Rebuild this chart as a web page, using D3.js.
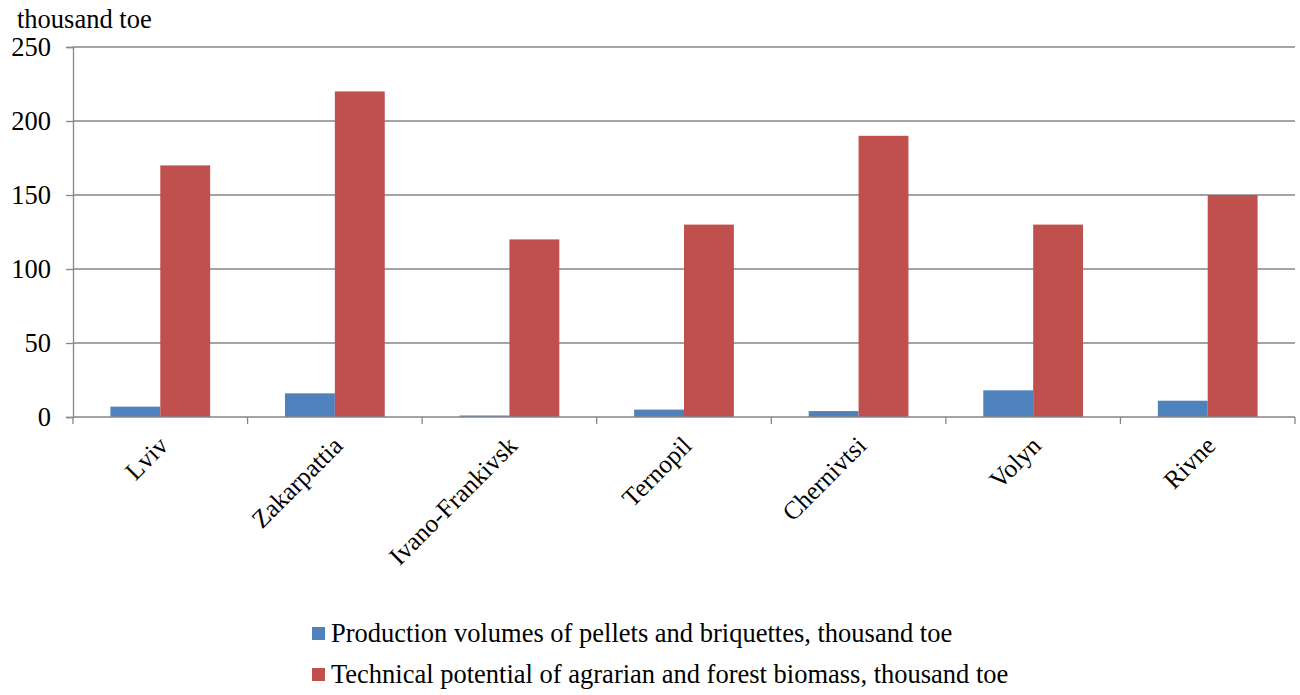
<!DOCTYPE html>
<html><head><meta charset="utf-8">
<script src="https://cdn.jsdelivr.net/npm/d3@7"></script>
<style>body{margin:0;background:#fff}svg{display:block}</style>
</head><body><svg id="c" width="1300" height="695"></svg>
<script>
const categories = ["Lviv","Zakarpattia","Ivano-Frankivsk","Ternopil","Chernivtsi","Volyn","Rivne"];
const production = [7,16,1,5,4,18,11];
const potential = [170,220,120,130,190,130,150];
const seriesNames = ["Production volumes of pellets and briquettes, thousand toe","Technical potential of agrarian and forest biomass, thousand toe"];
const colors = ["#4f81bd","#c0504d"];
const yTicks = [0,50,100,150,200,250];

const FONT = "'Liberation Serif', Tinos, 'DejaVu Serif', serif";
const svg = d3.select("#c").style("font-family",FONT);
const L=73,R=1295,T=47,B=417;
const x = d3.scaleBand().domain(categories).range([L,R]).padding(0);
const y = d3.scaleLinear().domain([0,250]).range([B,T]);
const bw = x.bandwidth()/3.5;
const grid="#868686";

svg.append("g").selectAll("line").data(yTicks.filter(d=>d>0)).join("line")
 .attr("x1",L).attr("x2",R).attr("y1",d=>y(d)).attr("y2",d=>y(d)).attr("stroke",grid).attr("stroke-width",1.3);

const yAxis = d3.axisLeft(y).tickValues(yTicks).tickSize(7).tickPadding(15);
const gy = svg.append("g").attr("transform",`translate(${L},0)`).call(yAxis)
 .attr("font-family",FONT).attr("font-size",26.5);
gy.select(".domain").attr("stroke",grid).attr("stroke-width",1.3);
gy.selectAll(".tick line").attr("stroke",grid).attr("stroke-width",1.3);
gy.selectAll(".tick text").attr("fill","#000").attr("dy","0.33em");

const data = [production, potential];
data.forEach((vals,si)=>{
 svg.append("g").selectAll("rect").data(categories).join("rect")
  .attr("x",(c)=>x(c)+x.bandwidth()/2-bw+si*bw)
  .attr("width",bw)
  .attr("y",(c,i)=>y(vals[i]))
  .attr("height",(c,i)=>B-y(vals[i]))
  .attr("fill",colors[si]);
});

svg.append("line").attr("x1",L).attr("x2",R).attr("y1",B).attr("y2",B).attr("stroke",grid).attr("stroke-width",1.3);
const bounds = categories.map(c=>x(c)).concat([R]);
svg.append("g").selectAll("line").data(bounds).join("line")
 .attr("x1",d=>d).attr("x2",d=>d).attr("y1",B).attr("y2",B+7).attr("stroke",grid).attr("stroke-width",1.3);

svg.append("g").attr("font-family",FONT).selectAll("text").data(categories).join("text")
 .attr("transform",c=>`translate(${x(c)+x.bandwidth()/2+3},${B+24}) rotate(-45)`)
 .attr("text-anchor","end").attr("dy","0.35em").attr("font-size",25.5).text(c=>c);

svg.append("text").attr("font-family",FONT).attr("x",17).attr("y",28).attr("font-size",26.5).text("thousand toe");

const lg = svg.append("g").attr("font-family",FONT);
seriesNames.forEach((n,i)=>{
 lg.append("rect").attr("x",312).attr("y",627+i*41).attr("width",13).attr("height",13).attr("fill",colors[i]);
 lg.append("text").attr("x",331).attr("y",642+i*41).attr("font-size",26.5).text(n);
});
</script></body></html>
